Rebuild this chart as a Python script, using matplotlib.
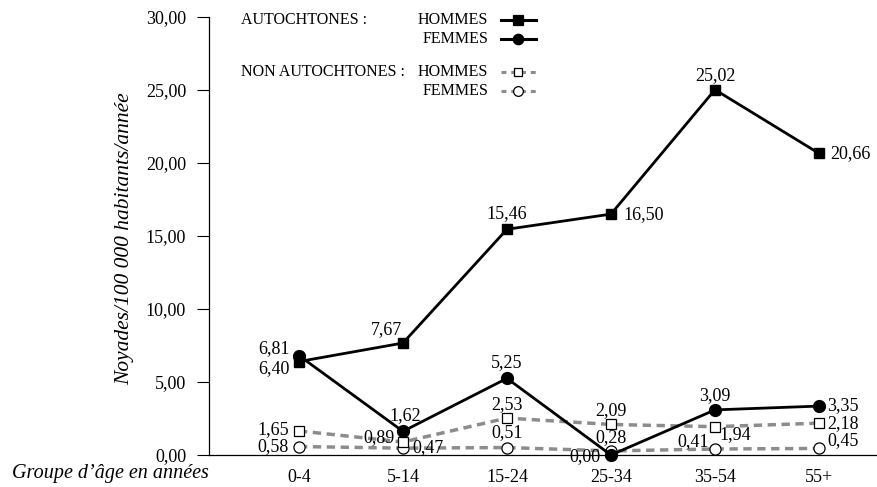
import matplotlib
matplotlib.use("Agg")
import matplotlib.pyplot as plt
from matplotlib.lines import Line2D

plt.rcParams['font.family'] = ['Liberation Serif', 'DejaVu Serif']

# data
groupes = ["0-4", "5-14", "15-24", "25-34", "35-54", "55+"]
auto_hommes = [6.40, 7.67, 15.46, 16.50, 25.02, 20.66]
auto_femmes = [6.81, 1.62, 5.25, 0.00, 3.09, 3.35]
non_auto_hommes = [1.65, 0.89, 2.53, 2.09, 1.94, 2.18]
non_auto_femmes = [0.58, 0.47, 0.51, 0.28, 0.41, 0.45]
yticks = [0, 5, 10, 15, 20, 25, 30]

GRAY = "#8c8c8c"
FS = 11.5     # legend
FSN = 13      # numbers

def fmt(v):
    return f"{v:.2f}".replace(".", ",")

# label offsets in pixels (dx, dy, ha, va)
off_ah = [(-9, -7, "right", "center"), (-1, 5, "right", "bottom"), (0, 7, "center", "bottom"),
          (12, 0, "left", "center"), (0, 6, "center", "bottom"), (11, 0, "left", "center")]
off_af = [(-9, 7, "right", "center"), (2, 7, "center", "bottom"), (0, 7, "center", "bottom"),
          (-10, -2, "right", "center"), (0, 6, "center", "bottom"), (8, 0, "left", "center")]
off_nah = [(-10, 1, "right", "center"), (-8, 4, "right", "center"), (0, 5, "center", "bottom"),
           (0, 5, "center", "bottom"), (4, -8, "left", "center"), (8, 0, "left", "center")]
off_naf = [(-10, 0, "right", "center"), (9, 1, "left", "center"), (0, 6, "center", "bottom"),
           (0, 5, "center", "bottom"), (-6, 7, "right", "center"), (8, 8, "left", "center")]

fig = plt.figure(figsize=(8.77, 4.87), dpi=100)
ax = fig.add_axes([209 / 877, 32 / 487, 1 - 209 / 877, 438 / 487])

x = list(range(len(groupes)))

ax.plot(x, non_auto_femmes, color=GRAY, lw=2.5, ls=(0, (2.4, 1.6)), marker="o", ms=8,
        mfc="white", mec="black", mew=0.9, clip_on=False, zorder=3)
ax.plot(x, non_auto_hommes, color=GRAY, lw=2.5, ls=(0, (2.4, 1.6)), marker="s", ms=7,
        mfc="white", mec="black", mew=0.9, clip_on=False, zorder=3)
ax.plot(x, auto_hommes, color="black", lw=2, marker="s", ms=7.5, clip_on=False, zorder=4)
ax.plot(x, auto_femmes, color="black", lw=2, marker="o", ms=8.5, clip_on=False, zorder=4)

for vals, offs in [(auto_hommes, off_ah), (auto_femmes, off_af),
                   (non_auto_hommes, off_nah), (non_auto_femmes, off_naf)]:
    for i, v in enumerate(vals):
        dx, dy, ha, va = offs[i]
        ax.annotate(fmt(v), (i, v), xytext=(dx * 0.72, dy * 0.72), textcoords="offset points",
                    ha=ha, va=va, fontsize=FSN, zorder=5)

ax.set_xlim(-0.865, 5.558)
ax.set_ylim(0, 30)
ax.set_yticks(yticks)
ax.set_yticklabels([fmt(t) for t in yticks], fontsize=FSN)
ax.set_xticks(x)
ax.set_xticklabels(groupes, fontsize=FSN)
ax.tick_params(axis="x", length=0, pad=10)
ax.tick_params(axis="y", length=8.5, width=0.8, pad=8, direction="out")
for s in ["top", "right"]:
    ax.spines[s].set_visible(False)
ax.spines["left"].set_linewidth(0.9)
ax.spines["bottom"].set_linewidth(0.9)

fig.text(125 / 877, 1 - 239 / 487, "Noyades/100 000 habitants/année", rotation=90,
         ha="center", va="center", style="italic", fontsize=15.5)
fig.text(12 / 877, 1 - 478 / 487, "Groupe d’âge en années", ha="left", va="baseline",
         style="italic", fontsize=14.5)

# legend
def px(xp, yp):
    return xp / 877, 1 - yp / 487

for txt, yy in [("AUTOCHTONES :", 20), ("NON AUTOCHTONES :", 72)]:
    fig.text(*px(241, yy), txt, ha="left", va="center", fontsize=FS)
for yy in [20, 39, 72, 91]:
    lab = "HOMMES" if yy in (20, 72) else "FEMMES"
    fig.text(*px(488, yy), lab, ha="right", va="center", fontsize=FS)

samples = [(20, "black", "-", "s", "black", 6.5), (39, "black", "-", "o", "black", 7.5),
           (72, GRAY, (0, (1.6, 1.6)), "s", "white", 6), (91, GRAY, (0, (1.6, 1.6)), "o", "white", 7)]
for yy, col, ls, mk, fc, ms in samples:
    x0, y0 = px(501, yy)
    x1, _ = px(536, yy)
    fig.add_artist(Line2D([x0, x1], [y0, y0], transform=fig.transFigure, color=col,
                          lw=2.2, ls=ls))
    xm, _ = px(518, yy)
    fig.add_artist(Line2D([xm], [y0], transform=fig.transFigure, marker=mk, ms=ms,
                          mfc=fc, mec="black", mew=0.9, ls="none"))

fig.savefig("out.png", dpi=100)
